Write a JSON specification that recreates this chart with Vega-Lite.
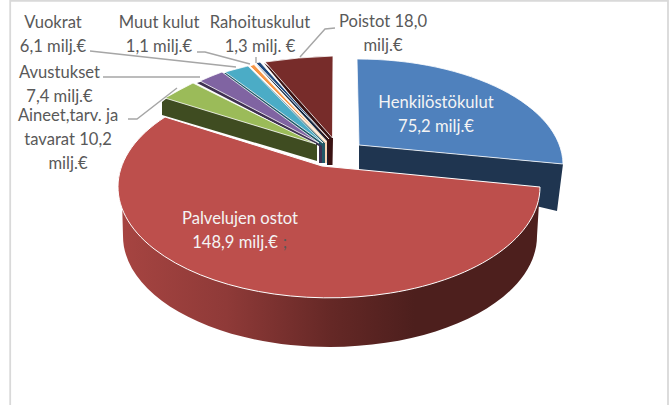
{"$schema":"https://vega.github.io/schema/vega-lite/v6.json","width":669,"height":405,"padding":0,"autosize":{"type":"none"},"background":"white","config":{"view":{"stroke":null},"axis":{"disable":true},"legend":{"disable":true}},
"data":{"values":[
{"name":"Henkilöstökulut","value":75.2,"label":"Henkilöstökulut\n75,2 milj.€"},
{"name":"Aineet","value":10.2,"label":"Aineet,tarv. ja\ntavarat 10,2\nmilj.€"},
{"name":"Avustukset","value":7.4,"label":"Avustukset\n7,4 milj.€"},
{"name":"Vuokrat","value":6.1,"label":"Vuokrat\n6,1 milj.€"},
{"name":"Muut kulut","value":1.1,"label":"Muut kulut\n1,1 milj.€"},
{"name":"Rahoituskulut","value":1.3,"label":"Rahoituskulut\n1,3 milj. €"},
{"name":"Poistot","value":18.0,"label":"Poistot 18,0\nmilj.€"},
{"name":"Palvelujen ostot","value":148.9,"label":"Palvelujen ostot"}
]},
"resolve":{"scale":{"shape":"independent","fill":"independent"}},
"layer":[
{"transform":[{"filter":"datum.name==='Poistot'"}],"mark":{"type":"point","shape":"M10.2,405 L10.2,0.8 L668,0.8 L668,405","filled":false,"stroke":"#d9d9d9","strokeWidth":1.8,"size":4,"opacity":1},"encoding":{"x":{"datum":0,"scale":{"domain":[0,669],"nice":false}},"y":{"datum":0,"scale":{"domain":[0,405],"reverse":true,"nice":false}}}},
{"transform":[{"filter":"datum.name!=='Palvelujen ostot'"}],"mark":{"type":"point","filled":true,"size":4,"opacity":1,"strokeWidth":0},"encoding":{"x":{"datum":0,"scale":{"domain":[0,669],"nice":false}},"y":{"datum":0,"scale":{"domain":[0,405],"reverse":true,"nice":false}},
"shape":{"field":"name","type":"nominal","scale":{"domain":["Henkilöstökulut","Aineet","Avustukset","Vuokrat","Muut kulut","Rahoituskulut","Poistot"],"range":[
"M359,145 L359,175 L540,207 L557,211 L563,164 Z",
"M162,102 L162,115 L317,161 L317,144 L167,98 Z",
"M197,83 L319,146 L319,163 L323,163 L323,145 L222,75 Z",
"M222,74 L322,146 L322,163 L325,163 L325,143 L248,66 Z",
"M251,67 L325,143 L325,163 L327,163 L327,141 L254,65 Z",
"M256,64 L327,141 L327,165 L329,165 L330,139 Z",
"M264,63 L327,140 L328,165 L332.5,165 L333,138 L300,90 Z"]}},
"fill":{"field":"name","type":"nominal","scale":{"domain":["Henkilöstökulut","Aineet","Avustukset","Vuokrat","Muut kulut","Rahoituskulut","Poistot"],"range":["#1f3550","#3f4c21","#3f3151","#205867","#fbd5b5","#10253f","#3a1212"]}}}},
{"transform":[{"filter":"datum.name!=='Palvelujen ostot'"}],"mark":{"type":"point","filled":true,"size":4,"opacity":1,"stroke":"white","strokeWidth":0.8},"encoding":{"x":{"datum":0,"scale":{"domain":[0,669],"nice":false}},"y":{"datum":0,"scale":{"domain":[0,405],"reverse":true,"nice":false}},
"shape":{"field":"name","type":"nominal","scale":{"domain":["Henkilöstökulut","Aineet","Avustukset","Vuokrat","Muut kulut","Rahoituskulut","Poistot"],"range":[
"M359,145 L357,59 A206,106 0 0 1 563,164 Z",
"M316,144 L165,98 Q179,90 193,83 Z",
"M319,143 L200,81 Q211,76 222,72 Z",
"M323,143 L225,72 Q236,69 248,66 Z",
"M326,142 L250,66 L254,64.5 Z",
"M329,139 L256,63 L260,62 Z",
"M332.5,138 L333,56 Q298,57 265,62 Z"]}},
"fill":{"field":"name","type":"nominal","scale":{"domain":["Henkilöstökulut","Aineet","Avustukset","Vuokrat","Muut kulut","Rahoituskulut","Poistot"],"range":["#4f81bd","#9bbb59","#8064a2","#4bacc6","#f79646","#1f497d","#772c2a"]}}}},
{"transform":[{"filter":"datum.name==='Palvelujen ostot'"}],"mark":{"type":"point","shape":"M122,200 L123,236 A207,111 0 0 0 537,236 L540,187 Z","filled":true,"size":4,"opacity":1,"strokeWidth":0,"fill":{"gradient":"linear","x1":0,"x2":1,"y1":0,"y2":0,"stops":[{"offset":0,"color":"#a64441"},{"offset":0.25,"color":"#8f3a38"},{"offset":0.5,"color":"#652826"},{"offset":0.7,"color":"#4d1f1d"},{"offset":1,"color":"#4d1f1d"}]}},"encoding":{"x":{"datum":0,"scale":{"domain":[0,669],"nice":false}},"y":{"datum":0,"scale":{"domain":[0,405],"reverse":true,"nice":false}}}},
{"transform":[{"filter":"datum.name==='Palvelujen ostot'"}],"mark":{"type":"point","shape":"M322,166 L540,187 A211,111 0 1 1 165,117 Z","filled":true,"size":4,"opacity":1,"fill":"#bd4f4c","stroke":"white","strokeWidth":1},"encoding":{"x":{"datum":0,"scale":{"domain":[0,669],"nice":false}},"y":{"datum":0,"scale":{"domain":[0,405],"reverse":true,"nice":false}}}},
{"transform":[{"filter":"datum.name!=='Henkilöstökulut' && datum.name!=='Palvelujen ostot'"}],"mark":{"type":"point","filled":false,"size":4,"opacity":1,"stroke":"#a6a6a6","strokeWidth":1.4},"encoding":{"x":{"datum":0,"scale":{"domain":[0,669],"nice":false}},"y":{"datum":0,"scale":{"domain":[0,405],"reverse":true,"nice":false}},
"shape":{"field":"name","type":"nominal","scale":{"domain":["Aineet","Avustukset","Vuokrat","Muut kulut","Rahoituskulut","Poistot"],"range":[
"M128,119 L137,119 L177,88",
"M103,77 L200,77",
"M90,51 L236,67",
"M197,52 L205,52 L250,64",
"M256,57 L256,63",
"M335,28 L325,29 L300,57"]}}}},
{"transform":[{"filter":"datum.name==='Vuokrat'"}],"mark":{"type":"text","font":"Lato","fontSize":16.6,"color":"#595959","lineBreak":"\n","lineHeight":24,"baseline":"middle","align":"center"},"encoding":{"text":{"field":"label"},"tooltip":{"field":"value"},"x":{"datum":53,"scale":{"domain":[0,669],"nice":false}},"y":{"datum":22.5,"scale":{"domain":[0,405],"reverse":true,"nice":false}}}},
{"transform":[{"filter":"datum.name==='Muut kulut'"}],"mark":{"type":"text","font":"Lato","fontSize":16.6,"color":"#595959","lineBreak":"\n","lineHeight":24,"baseline":"middle","align":"center"},"encoding":{"text":{"field":"label"},"tooltip":{"field":"value"},"x":{"datum":159,"scale":{"domain":[0,669],"nice":false}},"y":{"datum":22.5,"scale":{"domain":[0,405],"reverse":true,"nice":false}}}},
{"transform":[{"filter":"datum.name==='Rahoituskulut'"}],"mark":{"type":"text","font":"Lato","fontSize":16.6,"color":"#595959","lineBreak":"\n","lineHeight":24,"baseline":"middle","align":"center"},"encoding":{"text":{"field":"label"},"tooltip":{"field":"value"},"x":{"datum":260,"scale":{"domain":[0,669],"nice":false}},"y":{"datum":22.5,"scale":{"domain":[0,405],"reverse":true,"nice":false}}}},
{"transform":[{"filter":"datum.name==='Poistot'"}],"mark":{"type":"text","font":"Lato","fontSize":16.6,"color":"#595959","lineBreak":"\n","lineHeight":24,"baseline":"middle","align":"center"},"encoding":{"text":{"field":"label"},"tooltip":{"field":"value"},"x":{"datum":383,"scale":{"domain":[0,669],"nice":false}},"y":{"datum":22,"scale":{"domain":[0,405],"reverse":true,"nice":false}}}},
{"transform":[{"filter":"datum.name==='Avustukset'"}],"mark":{"type":"text","font":"Lato","fontSize":16.6,"color":"#595959","lineBreak":"\n","lineHeight":24,"baseline":"middle","align":"center"},"encoding":{"text":{"field":"label"},"tooltip":{"field":"value"},"x":{"datum":59.5,"scale":{"domain":[0,669],"nice":false}},"y":{"datum":73,"scale":{"domain":[0,405],"reverse":true,"nice":false}}}},
{"transform":[{"filter":"datum.name==='Aineet'"}],"mark":{"type":"text","font":"Lato","fontSize":16.6,"color":"#595959","lineBreak":"\n","lineHeight":24,"baseline":"middle","align":"center"},"encoding":{"text":{"field":"label"},"tooltip":{"field":"value"},"x":{"datum":68,"scale":{"domain":[0,669],"nice":false}},"y":{"datum":115.5,"scale":{"domain":[0,405],"reverse":true,"nice":false}}}},
{"transform":[{"filter":"datum.name==='Henkilöstökulut'"}],"mark":{"type":"text","font":"Lato","fontSize":16.6,"color":"#f4f4f4","lineBreak":"\n","lineHeight":24,"baseline":"middle","align":"center"},"encoding":{"text":{"field":"label"},"tooltip":{"field":"value"},"x":{"datum":436,"scale":{"domain":[0,669],"nice":false}},"y":{"datum":102.5,"scale":{"domain":[0,405],"reverse":true,"nice":false}}}},
{"transform":[{"filter":"datum.name==='Palvelujen ostot'"}],"mark":{"type":"text","font":"Lato","fontSize":16.6,"color":"#f4f4f4","baseline":"middle","align":"center"},"encoding":{"text":{"field":"label"},"tooltip":{"field":"value"},"x":{"datum":240,"scale":{"domain":[0,669],"nice":false}},"y":{"datum":218.5,"scale":{"domain":[0,405],"reverse":true,"nice":false}}}},
{"transform":[{"filter":"datum.name==='Palvelujen ostot'"}],"mark":{"type":"text","font":"Lato","fontSize":16.6,"color":"#f4f4f4","baseline":"middle","align":"center"},"encoding":{"text":{"value":"148,9 milj.€"},"x":{"datum":235,"scale":{"domain":[0,669],"nice":false}},"y":{"datum":242.5,"scale":{"domain":[0,405],"reverse":true,"nice":false}}}},
{"transform":[{"filter":"datum.name==='Palvelujen ostot'"}],"mark":{"type":"text","font":"Lato","fontSize":16.6,"color":"#595959","baseline":"middle","align":"center"},"encoding":{"text":{"value":";"},"x":{"datum":285,"scale":{"domain":[0,669],"nice":false}},"y":{"datum":242.5,"scale":{"domain":[0,405],"reverse":true,"nice":false}}}}
]}
